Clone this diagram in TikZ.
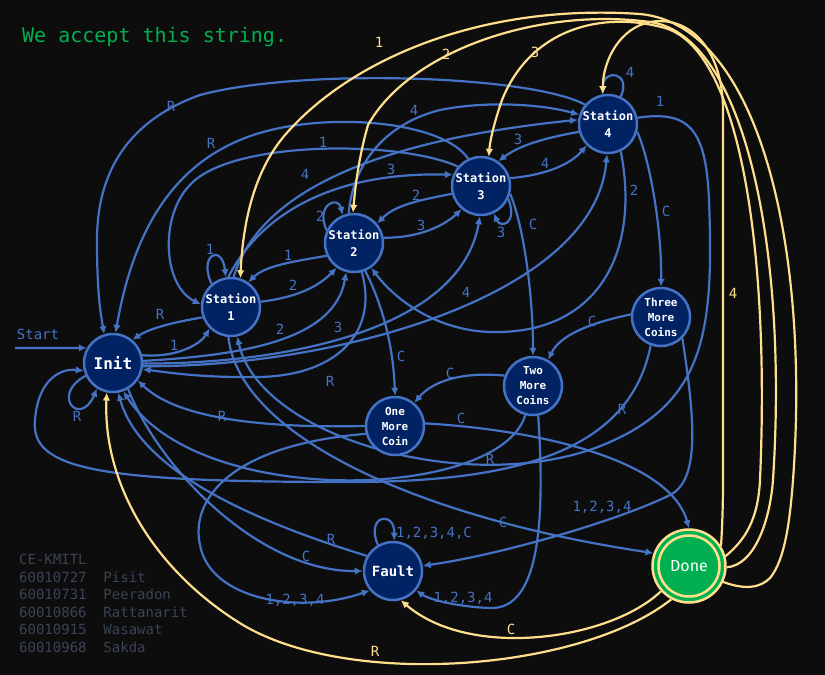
\documentclass[tikz,border=0pt]{standalone}
\usepackage{fontspec}
\setmainfont{DejaVu Sans}
\newfontfamily\monof{DejaVu Sans Mono}
\newfontfamily\donef{Fira Sans}
\usetikzlibrary{arrows.meta}
\definecolor{bgc}{HTML}{0D0D0D}
\definecolor{eblue}{HTML}{4472C4}
\definecolor{nfill}{HTML}{012263}
\definecolor{ylw}{HTML}{FFDF8C}
\definecolor{grn}{HTML}{00B050}
\definecolor{gry}{HTML}{3A4455}
\pgfdeclarelayer{bgl}
\pgfdeclarelayer{edl}
\pgfsetlayers{bgl,edl,main}
\begin{document}
\begin{tikzpicture}[x=1pt,y=-1pt,
  st/.style={circle,draw=eblue,line width=2.5pt,fill=nfill,minimum size=58pt,inner sep=0pt,text=white,align=center,font=\monof\bfseries\fontsize{12}{17}\selectfont},
  coin/.style={st,font=\monof\bfseries\fontsize{11}{15}\selectfont},
  ed/.style={draw=eblue,line width=2.2pt,-{Latex[length=8pt,width=7.5pt]}},
  ye/.style={draw=ylw,line width=2.2pt,-{Latex[length=8pt,width=7.5pt]}},
  lb/.style={text=eblue,font=\monof\fontsize{14}{16}\selectfont,inner sep=0pt},
  yl/.style={text=ylw,font=\monof\fontsize{14}{16}\selectfont,inner sep=0pt},
]
\begin{pgfonlayer}{bgl}
\fill[bgc] (0,0) rectangle (825,675);
\end{pgfonlayer}
\useasboundingbox (0,0) rectangle (825,675);

% title and credits
\node[anchor=west,text=grn,font=\monof\fontsize{20}{24}\selectfont,inner sep=0pt] (title) at (22,37) {We accept this string.};
\node[anchor=north west,text=gry,font=\monof\fontsize{14}{17.6}\selectfont,align=left,inner sep=0pt] (credits) at (19,554) {CE-KMITL\\60010727\ \ Pisit\\60010731\ \ Peeradon\\60010866\ \ Rattanarit\\60010915\ \ Wasawat\\60010968\ \ Sakda};

% states
\node[st,font=\monof\bfseries\fontsize{16}{18}\selectfont] (init) at (113,363) {Init};
\node[st] (s1) at (231,307) {Station\\1};
\node[st] (s2) at (354,243) {Station\\2};
\node[st] (s3) at (481,186) {Station\\3};
\node[st] (s4) at (608,124) {Station\\4};
\node[coin] (three) at (661,317) {Three\\More\\Coins};
\node[coin] (two) at (533,386) {Two\\More\\Coins};
\node[coin] (one) at (395,426) {One\\More\\Coin};
\node[st,font=\monof\bfseries\fontsize{14}{16}\selectfont] (fault) at (393,571) {Fault};
\node[circle,draw=ylw,line width=2.5pt,fill=grn,minimum size=73pt,inner sep=0pt,text=white,font=\donef\fontsize{16}{18}\selectfont] (done) at (689,566) {Done};
\draw[ylw,line width=2.5pt] (done.center) circle[radius=30.5pt];

\coordinate (startpt) at (15,348);

\begin{pgfonlayer}{edl}
% start
\draw[ed] (startpt) -- (init.150);
% Init
\draw[ed] (init.15) .. controls (175,358) and (200,345) .. (s1.225);
\draw[ed] (init.205) .. controls (50,395) and (80,428) .. (init.238);
\draw[ed] (init.4) .. controls (250,355) and (335,338) .. (s2.255);
\draw[ed] (init.359) .. controls (280,364) and (460,332) .. (s3.268);
\draw[ed] (init.354) .. controls (330,368) and (595,298) .. (s4.268);
\draw[ed] (init.300) .. controls (160,470) and (260,572) .. (fault.180);
% Station 1
\draw[ed] (s1.200) .. controls (175,322) and (150,328) .. (init.50);
\draw[ed] (s1.130) .. controls (198,255) and (222,243) .. (s1.100);
\draw[ed] (s1.10) .. controls (290,298) and (315,290) .. (s2.235);
\draw[ed] (s1.95) .. controls (262,212) and (335,172) .. (s3.158);
\draw[ed] (s1.85) .. controls (260,190) and (380,140) .. (s4.172);
\draw[ed] (s1.265) .. controls (240,440) and (430,520) .. (done.160);
% Station 2
\draw[ed] (s2.205) .. controls (290,262) and (265,266) .. (s1.55);
\draw[ed] (s2.155) .. controls (315,205) and (338,195) .. (s2.112);
\draw[ed] (s2.10) .. controls (420,238) and (445,225) .. (s3.230);
\draw[ed] (s2.100) .. controls (352,170) and (380,125) .. (440,110) .. controls (490,100) and (545,105) .. (s4.162);
\draw[ed] (s2.285) .. controls (378,330) and (340,375) .. (260,377) .. controls (200,378) and (165,372) .. (init.348);
\draw[ed] (s2.292) .. controls (380,300) and (393,340) .. (one.90);
% Station 3
\draw[ed] (s3.195) .. controls (420,200) and (395,205) .. (s2.40);
\draw[ed] (s3.335) .. controls (518,225) and (500,228) .. (s3.295);
\draw[ed] (s3.15) .. controls (545,175) and (570,165) .. (s4.225);
\draw[ed] (s3.140) .. controls (400,140) and (230,140) .. (190,185) .. controls (160,215) and (162,285) .. (s1.175);
\draw[ed] (s3.115) .. controls (440,118) and (310,110) .. (240,140) .. controls (180,165) and (135,220) .. (init.85);
\draw[ed] (s3.345) .. controls (525,230) and (533,300) .. (two.90);
% Station 4
\draw[ed] (s4.195) .. controls (545,138) and (520,145) .. (s3.55);
\draw[ed] (s4.65) .. controls (632,72) and (603,68) .. (s4.100);
\draw[ed] (s4.140) .. controls (530,75) and (300,68) .. (200,95) .. controls (130,120) and (97,170) .. (97,240) .. controls (97,290) and (100,310) .. (init.107);
\draw[ed] (s4.295) .. controls (640,250) and (600,330) .. (500,332) .. controls (440,334) and (395,300) .. (s2.305);
\draw[ed] (s4.12) .. controls (690,110) and (706,130) .. (709,200) .. controls (714,330) and (705,400) .. (610,442) .. controls (480,500) and (260,440) .. (s1.282);
\draw[ed] (s4.345) .. controls (650,160) and (662,230) .. (three.90);
% Three more coins
\draw[ed] (three.175) .. controls (590,323) and (560,335) .. (two.60);
\draw[ed] (three.250) .. controls (630,450) and (520,482) .. (350,482) .. controls (100,482) and (30,470) .. (35,420) .. controls (38,380) and (60,368) .. (init.195);
\draw[ed] (three.315) .. controls (695,420) and (700,480) .. (670,495) .. controls (620,520) and (500,555) .. (fault.10);
% Two more coins
\draw[ed] (two.160) .. controls (470,372) and (435,378) .. (one.50);
\draw[ed] (two.255) .. controls (500,500) and (200,510) .. (init.290);
\draw[ed] (two.280) .. controls (545,520) and (540,610) .. (490,608) .. controls (460,607) and (430,600) .. (fault.320);
% One more coin
\draw[ed] (one.180) .. controls (280,428) and (180,422) .. (init.325);
\draw[ed] (one.195) .. controls (230,445) and (190,500) .. (200,545) .. controls (210,600) and (300,615) .. (fault.220);
\draw[ed] (one.5) .. controls (540,430) and (670,460) .. (done.90);
% Fault
\draw[ed] (fault.150) .. controls (250,520) and (140,470) .. (init.280);
\draw[ed] (fault.120) .. controls (365,515) and (395,510) .. (fault.88);
% Done (yellow)
\draw[ye] (done.335) .. controls (745,590) and (760,588) .. (770,578) .. controls (785,560) and (790,520) .. (793,480) .. controls (810,250) and (760,25) .. (640,14) .. controls (480,3) and (350,60) .. (285,135) .. controls (255,170) and (243,220) .. (s1.72);
\draw[ye] (done.358) .. controls (755,565) and (770,520) .. (773,480) .. controls (788,250) and (745,35) .. (650,22) .. controls (540,7) and (410,50) .. (368,125) .. controls (358,160) and (355,190) .. (s2.92);
\draw[ye] (done.15) .. controls (745,540) and (758,520) .. (760,480) .. controls (770,250) and (740,50) .. (665,28) .. controls (600,10) and (530,30) .. (502,100) .. controls (495,120) and (490,140) .. (s3.75);
\draw[ye] (done.32) .. controls (722,530) and (723,510) .. (723,480) -- (723,110) .. controls (723,50) and (690,15) .. (650,22) .. controls (620,28) and (603,60) .. (s4.100);
\draw[ye] (done.222) .. controls (610,640) and (470,660) .. (fault.285);
\draw[ye] (done.242) .. controls (580,672) and (340,690) .. (235,620) .. controls (150,565) and (103,480) .. (init.258);
\end{pgfonlayer}

% labels
\node[lb] (lstart) at (38,334) {Start};
\node[lb] (l01) at (174,345) {1};
\node[lb] (l02) at (160,314) {R};
\node[lb] (l03) at (77,416) {R};
\node[lb] (l04) at (280,329) {2};
\node[lb] (l05) at (338,327) {3};
\node[lb] (l06) at (466,292) {4};
\node[lb] (l07) at (306,556) {C};
\node[lb] (l08) at (210,249) {1};
\node[lb] (l09) at (293,285) {2};
\node[lb] (l10) at (391,169) {3};
\node[lb] (l11) at (305,174) {4};
\node[lb] (l12) at (503,522) {C};
\node[lb] (l13) at (288,255) {1};
\node[lb] (l14) at (320,216) {2};
\node[lb] (l15) at (421,225) {3};
\node[lb] (l16) at (414,110) {4};
\node[lb] (l17) at (330,381) {R};
\node[lb] (l18) at (401,356) {C};
\node[lb] (l19) at (416,195) {2};
\node[lb] (l20) at (501,232) {3};
\node[lb] (l21) at (545,163) {4};
\node[lb] (l22) at (323,142) {1};
\node[lb] (l23) at (211,143) {R};
\node[lb] (l24) at (533,224) {C};
\node[lb] (l25) at (518,139) {3};
\node[lb] (l26) at (630,72) {4};
\node[lb] (l27) at (171,106) {R};
\node[lb] (l28) at (634,190) {2};
\node[lb] (l29) at (660,101) {1};
\node[lb] (l30) at (666,211) {C};
\node[lb] (l31) at (592,321) {C};
\node[lb] (l32) at (622,409) {R};
\node[lb] (l33) at (602,507) {1,2,3,4};
\node[lb] (l34) at (450,373) {C};
\node[lb] (l35) at (490,459) {R};
\node[lb] (l36) at (463,598) {1,2,3,4};
\node[lb] (l37) at (222,416) {R};
\node[lb] (l38) at (295,600) {1,2,3,4};
\node[lb] (l39) at (461,418) {C};
\node[lb] (l40) at (331,539) {R};
\node[lb] (l41) at (434,533) {1,2,3,4,C};
\node[yl] (y1) at (379,42) {1};
\node[yl] (y2) at (446,54) {2};
\node[yl] (y3) at (535,52) {3};
\node[yl] (y4) at (733,293) {4};
\node[yl] (y5) at (511,629) {C};
\node[yl] (y6) at (375,651) {R};
\end{tikzpicture}
\end{document}
